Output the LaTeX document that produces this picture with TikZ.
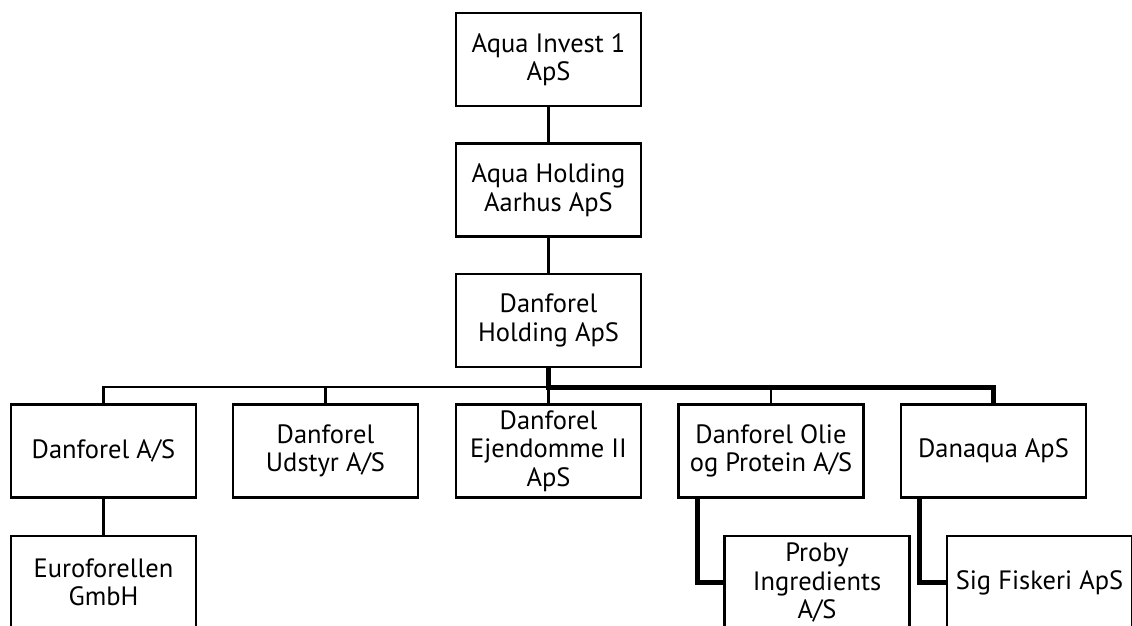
\documentclass[tikz,border=0pt]{standalone}
\usepackage{fontspec}
\setmainfont{PT Sans}
\usetikzlibrary{calc}
\begin{document}
\begin{tikzpicture}[x=1pt,y=-1pt,
  box/.style={draw=black, line width=2.4pt, rectangle, minimum width=185pt, minimum height=93pt, align=center, inner sep=2pt, font=\fontsize{26.5}{28.5}\selectfont},
  thin/.style={draw=black, line width=2.2pt},
  thick/.style={draw=black, line width=5pt}]
\useasboundingbox (0,0) rectangle (1132,626);
\clip (0,0) rectangle (1132,626);
\fill[white] (0,0) rectangle (1132,626);
\node[box] (top) at (548.5,59.5) {Aqua Invest 1\\ApS};
\node[box] (aqh) at (548.5,190) {Aqua Holding\\Aarhus ApS};
\node[box] (dh) at (548.5,320.5) {Danforel\\Holding ApS};
\node[box] (das) at (103.5,451) {Danforel A/S};
\node[box] (dud) at (325.5,451) {Danforel\\Udstyr A/S};
\node[box] (dej) at (548.5,451) {Danforel\\Ejendomme II\\ApS};
\node[box] (dol) at (771,451) {Danforel Olie\\og Protein A/S};
\node[box] (dan) at (993.5,451) {Danaqua ApS};
\node[box] (eur) at (103.5,582.5) {Euroforellen\\GmbH};
\node[box] (pro) at (817,582.5) {Proby\\Ingredients\\A/S};
\node[box] (sig) at (1039.5,582.5) {Sig Fiskeri ApS};
\coordinate (bar) at ($(dh.south)+(0,19)$);
\draw[thin] (top) -- (aqh);
\draw[thin] (aqh) -- (dh);
\draw[thin] (dh.south) -- (bar) -| (das.north);
\draw[thin] (bar) -| (dud.north);
\draw[thin] (bar) -- (dej.north);
\draw[thin] (bar) -| (dol.north);
\draw[thick] (dh.south) -- (bar) -| (dan.north);
\draw[thin] (das) -- (eur);
\draw[thick] ([xshift=20pt]dol.south west) |- (pro.west);
\draw[thick] ([xshift=20pt]dan.south west) |- (sig.west);
\end{tikzpicture}
\end{document}
